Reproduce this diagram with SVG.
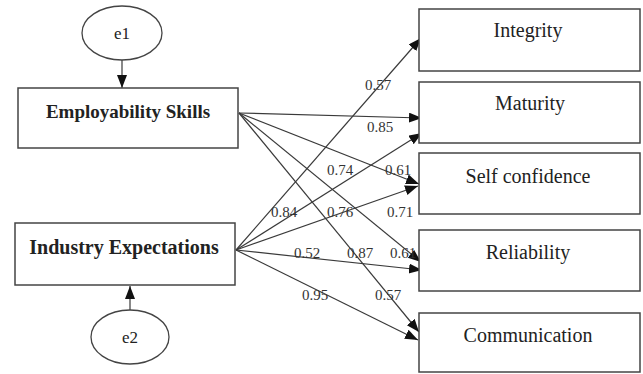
<svg xmlns="http://www.w3.org/2000/svg" width="643" height="374" viewBox="0 0 643 374">
<style>
.box{fill:#fff;stroke:#444;stroke-width:1.5}
.ell{fill:#fff;stroke:#444;stroke-width:1.3}
.c{stroke:#3a3a3a;stroke-width:1.2;fill:none;marker-end:url(#ah)}
.t{font-family:"Liberation Serif","Times New Roman",serif;fill:#222;text-anchor:middle}
.b{font-weight:bold}
.lbl{font-family:"Liberation Serif","Times New Roman",serif;font-size:15px;fill:#333;text-anchor:middle}
</style>
<defs>
<marker id="ah" markerUnits="userSpaceOnUse" markerWidth="14" markerHeight="11" refX="13" refY="5" orient="auto">
<path d="M0,0 L13,5 L0,10 z" fill="#111"/>
</marker>
</defs>
<rect width="643" height="374" fill="#fff"/>
<g id="connectors">
<line class="c" x1="122" y1="60" x2="122" y2="88"/>
<line class="c" x1="130" y1="310" x2="130" y2="286"/>
<line class="c" x1="239" y1="113" x2="422" y2="118"/>
<line class="c" x1="239" y1="113" x2="419" y2="184"/>
<line class="c" x1="239" y1="113" x2="421" y2="262"/>
<line class="c" x1="239" y1="113" x2="419" y2="332"/>
<line class="c" x1="236" y1="250" x2="421" y2="38"/>
<line class="c" x1="236" y1="250" x2="422" y2="133"/>
<line class="c" x1="236" y1="250" x2="418" y2="186"/>
<line class="c" x1="236" y1="250" x2="422" y2="270"/>
<line class="c" x1="236" y1="250" x2="418" y2="340"/>
</g>
<g id="labels">
<text class="lbl" x="378" y="90">0.57</text>
<text class="lbl" x="380" y="132">0.85</text>
<text class="lbl" x="340" y="175">0.74</text>
<text class="lbl" x="398" y="175">0.61</text>
<text class="lbl" x="284" y="217">0.84</text>
<text class="lbl" x="340" y="217">0.76</text>
<text class="lbl" x="400" y="217">0.71</text>
<text class="lbl" x="307" y="258">0.52</text>
<text class="lbl" x="360" y="258">0.87</text>
<text class="lbl" x="403" y="258">0.61</text>
<text class="lbl" x="315" y="300">0.95</text>
<text class="lbl" x="388" y="300">0.57</text>
</g>
<g id="e1">
<ellipse class="ell" cx="122" cy="33" rx="40" ry="27"/>
<text class="t" x="122" y="39" font-size="17">e1</text>
</g>
<g id="e2">
<ellipse class="ell" cx="130" cy="337" rx="39" ry="27"/>
<text class="t" x="130" y="343" font-size="17">e2</text>
</g>
<g id="employability">
<rect class="box" x="18" y="88" width="220" height="60"/>
<text class="t b" x="128" y="118" font-size="19">Employability Skills</text>
</g>
<g id="industry">
<rect class="box" x="15" y="223" width="220" height="62"/>
<text class="t b" x="124" y="254" font-size="20">Industry Expectations</text>
</g>
<g id="integrity">
<rect class="box" x="419" y="9" width="221" height="62"/>
<text class="t" x="528" y="37" font-size="20">Integrity</text>
</g>
<g id="maturity">
<rect class="box" x="419" y="82" width="221" height="61"/>
<text class="t" x="530" y="110" font-size="20">Maturity</text>
</g>
<g id="selfconfidence">
<rect class="box" x="419" y="153" width="221" height="61"/>
<text class="t" x="528" y="183" font-size="20">Self confidence</text>
</g>
<g id="reliability">
<rect class="box" x="419" y="230" width="221" height="61"/>
<text class="t" x="528" y="259" font-size="20">Reliability</text>
</g>
<g id="communication">
<rect class="box" x="419" y="313" width="221" height="59"/>
<text class="t" x="528" y="342" font-size="20">Communication</text>
</g>
</svg>
